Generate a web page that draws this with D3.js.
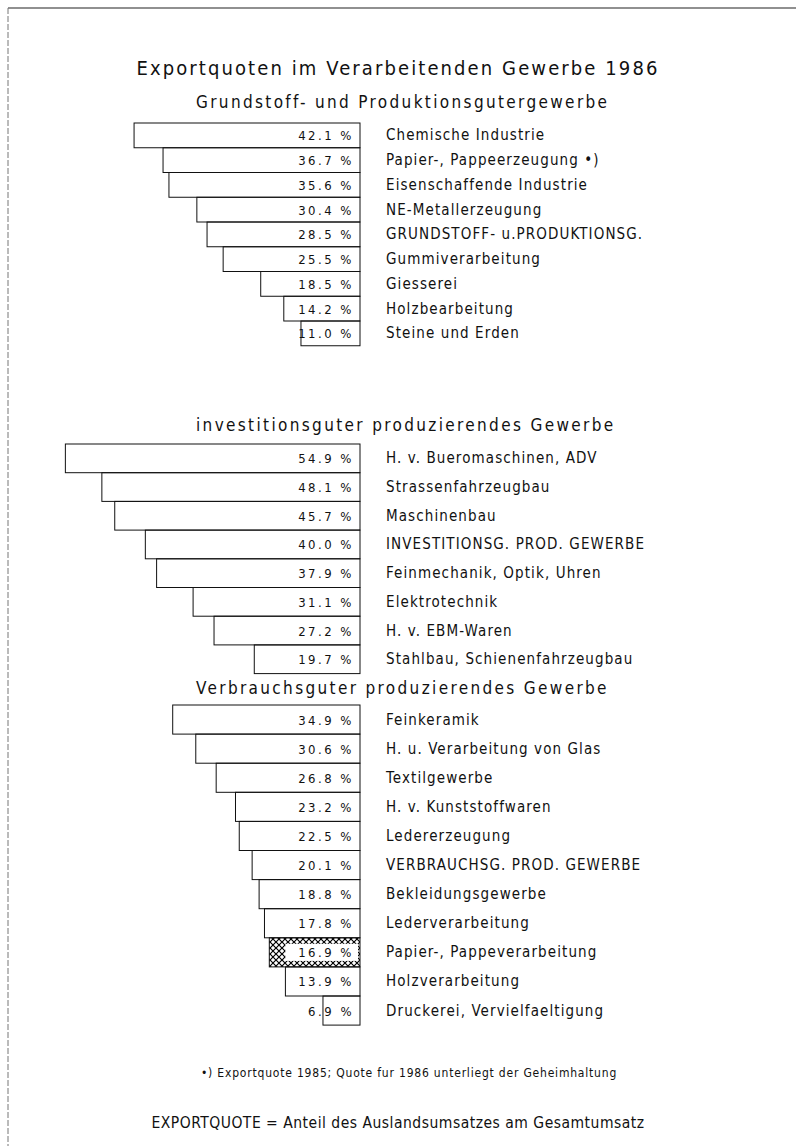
<!DOCTYPE html>
<html>
<head>
<meta charset="utf-8">
<script src="https://cdn.jsdelivr.net/npm/d3@7"></script>
<style>
  body { margin: 0; background: #fff; }
  text { font-family: "DejaVu Sans Condensed", "DejaVu Sans", sans-serif; font-weight: 200; fill: #111; }
</style>
</head>
<body>
<svg width="796" height="1146"></svg>
<script>
// Exportquoten 1986
var grundLabels = ["Chemische Industrie", "Papier-, Pappeerzeugung •)", "Eisenschaffende Industrie",
  "NE-Metallerzeugung", "GRUNDSTOFF- u.PRODUKTIONSG.", "Gummiverarbeitung", "Giesserei",
  "Holzbearbeitung", "Steine und Erden"];
var grundValues = [42.1, 36.7, 35.6, 30.4, 28.5, 25.5, 18.5, 14.2, 11.0];

var investLabels = ["H. v. Bueromaschinen, ADV", "Strassenfahrzeugbau", "Maschinenbau",
  "INVESTITIONSG. PROD. GEWERBE", "Feinmechanik, Optik, Uhren", "Elektrotechnik",
  "H. v. EBM-Waren", "Stahlbau, Schienenfahrzeugbau"];
var investValues = [54.9, 48.1, 45.7, 40.0, 37.9, 31.1, 27.2, 19.7];

var verbrLabels = ["Feinkeramik", "H. u. Verarbeitung von Glas", "Textilgewerbe",
  "H. v. Kunststoffwaren", "Ledererzeugung", "VERBRAUCHSG. PROD. GEWERBE",
  "Bekleidungsgewerbe", "Lederverarbeitung", "Papier-, Pappeverarbeitung",
  "Holzverarbeitung", "Druckerei, Vervielfaeltigung"];
var verbrValues = [34.9, 30.6, 26.8, 23.2, 22.5, 20.1, 18.8, 17.8, 16.9, 13.9, 6.9];

var groupTitles = ["Grundstoff- und Produktionsgutergewerbe",
  "investitionsguter produzierendes Gewerbe",
  "Verbrauchsguter produzierendes Gewerbe"];
var hatched = ["Papier-, Pappeverarbeitung"]; // schraffierter Balken

var svg = d3.select("svg");
var right = 360; // rechte Kante aller Balken

// Breite: ca. 5.37 px pro Prozentpunkt
var w = d3.scaleLinear().domain([0, 60]).range([0, 322]);

// Rahmen (oben und links)
svg.append("line").attr("x1", 8).attr("x2", 796).attr("y1", 8).attr("y2", 8)
  .attr("stroke", "#222").attr("stroke-width", 1.2);
svg.append("line").attr("x1", 8).attr("x2", 8).attr("y1", 8).attr("y2", 1146)
  .attr("stroke", "#777").attr("stroke-width", 1).attr("stroke-dasharray", "6,2");

// Kreuzschraffur
var pat = svg.append("defs").append("pattern").attr("id", "cross")
  .attr("patternUnits", "userSpaceOnUse").attr("width", 6).attr("height", 6);
pat.append("path").attr("d", "M0,0L6,6M6,0L0,6").attr("stroke", "#000").attr("stroke-width", 1.2);

svg.append("text").attr("x", 398).attr("y", 75).attr("text-anchor", "middle")
  .style("font-size", "20px").style("letter-spacing", "2.1px")
  .text("Exportquoten im Verarbeitenden Gewerbe 1986");

function gruppe(title, titleY, labels, values, top, step) {
  svg.append("text").attr("x", 196).attr("y", titleY)
    .style("font-size", "17px").style("letter-spacing", "2.35px")
    .text(title);

  var y = d3.scaleBand().domain(labels).range([top, top + step * labels.length]).padding(0);
  var rows = svg.append("g").selectAll("g").data(labels).join("g");

  rows.append("rect")
    .attr("x", function(d, i) { return right - w(values[i]); })
    .attr("y", function(d) { return y(d); })
    .attr("width", function(d, i) { return w(values[i]); })
    .attr("height", y.bandwidth())
    .attr("fill", function(d) { return hatched.indexOf(d) >= 0 ? "url(#cross)" : "none"; })
    .attr("stroke", "#111").attr("stroke-width", 1);

  // weisse Flaeche hinter dem Wert im schraffierten Balken
  rows.filter(function(d) { return hatched.indexOf(d) >= 0; }).append("rect")
    .attr("x", function(d) { return right - w(values[labels.indexOf(d)]) + 16; })
    .attr("y", function(d) { return y(d) + 6; })
    .attr("width", function(d) { return w(values[labels.indexOf(d)]) - 18; })
    .attr("height", y.bandwidth() - 12)
    .attr("fill", "#fff");

  rows.append("text")
    .attr("x", right - 6)
    .attr("y", function(d) { return y(d) + y.bandwidth() / 2 + 5; })
    .attr("text-anchor", "end")
    .style("font-size", "13px").style("letter-spacing", "2.5px")
    .text(function(d, i) { return values[i].toFixed(1) + " %"; });

  rows.append("text")
    .attr("x", 386)
    .attr("y", function(d) { return y(d) + y.bandwidth() / 2 + 5; })
    .style("font-size", "15px").style("letter-spacing", "1.1px")
    .text(function(d) { return d; });
}

gruppe(groupTitles[0], 108, grundLabels, grundValues, 123, 24.75);
gruppe(groupTitles[1], 431, investLabels, investValues, 444, 28.7);
gruppe(groupTitles[2], 694, verbrLabels, verbrValues, 705, 29.1);

svg.append("text").attr("x", 409).attr("y", 1077).attr("text-anchor", "middle")
  .style("font-size", "12px").style("letter-spacing", "0.8px")
  .text("•)  Exportquote 1985; Quote fur 1986 unterliegt der Geheimhaltung");

svg.append("text").attr("x", 398).attr("y", 1128).attr("text-anchor", "middle")
  .style("font-size", "15.5px").style("letter-spacing", "0.5px")
  .text("EXPORTQUOTE = Anteil des Auslandsumsatzes am Gesamtumsatz");
</script>
</body>
</html>
